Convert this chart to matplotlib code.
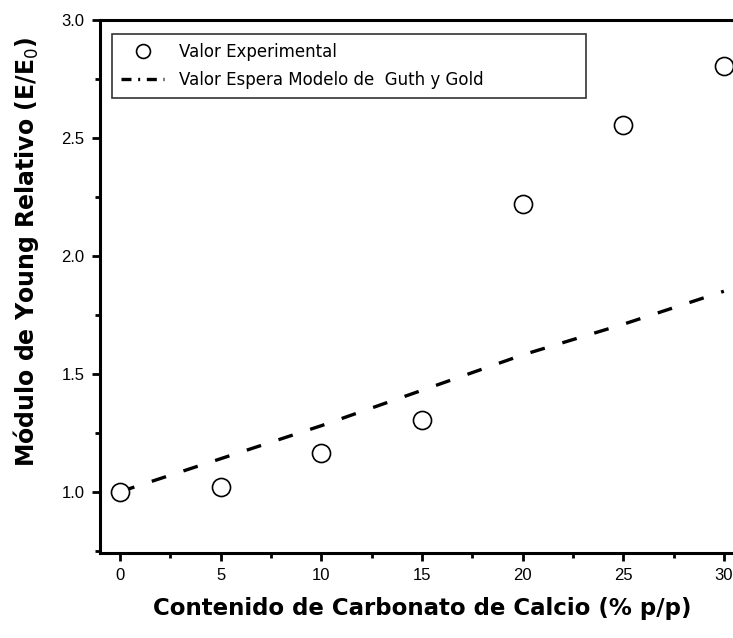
import numpy as np
import matplotlib
matplotlib.use("Agg")
import matplotlib.pyplot as plt
from matplotlib.lines import Line2D
from matplotlib.ticker import MultipleLocator

carbonato = [0, 5, 10, 15, 20, 25, 30]
modulo_exp = [1.00, 1.02, 1.165, 1.305, 2.22, 2.555, 2.805]

# Guth y Gold expected values
carbonato_modelo = [0, 5, 10, 15, 20, 25, 30]
modulo_modelo = [1.00, 1.14, 1.28, 1.43, 1.58, 1.71, 1.85]

plt.rcParams['font.family'] = ['Liberation Sans', 'DejaVu Sans']

fig = plt.figure(figsize=(7.33, 6.38), dpi=100)
ax = fig.add_axes([0.1364, 0.1332, 0.8786, 0.8354])

ax.plot(carbonato_modelo, modulo_modelo, color='black', lw=2.4,
        dashes=(4.5, 5.5), zorder=2)
ax.plot(carbonato, modulo_exp, 'o', ms=13, mfc='white', mec='black',
        mew=1.2, zorder=3)

ax.set_xlim(-1, 31)
ax.set_ylim(0.74, 3.0)
ax.xaxis.set_major_locator(MultipleLocator(5))
ax.xaxis.set_minor_locator(MultipleLocator(2.5))
ax.yaxis.set_major_locator(MultipleLocator(0.5))
ax.yaxis.set_minor_locator(MultipleLocator(0.25))
ax.yaxis.set_major_formatter(matplotlib.ticker.FormatStrFormatter('%.1f'))

for s in ax.spines.values():
    s.set_linewidth(2.2)
ax.tick_params(which='major', direction='out', length=6, width=2, labelsize=12, pad=5)
ax.tick_params(which='minor', direction='out', length=3.5, width=2)

ax.set_xlabel('Contenido de Carbonato de Calcio (% p/p)', fontsize=16.5,
              fontweight='bold', family='DejaVu Sans', labelpad=10)
ax.set_ylabel('Módulo de Young Relativo (E/E$_0$)', fontsize=17,
              fontweight='bold', family='DejaVu Sans')
ax.yaxis.set_label_coords(-0.092, 0.565)

handles = [
    Line2D([], [], ls='none', marker='o', ms=10, mfc='white', mec='black', mew=1.2),
    Line2D([], [], color='black', lw=2.4, dashes=(3, 2, 0.6, 2)),
]
labels = ['Valor Experimental', 'Valor Espera Modelo de  Guth y Gold']
leg = ax.legend(handles, labels, loc='upper left',
                bbox_to_anchor=(0.0186, 0.0, 0.736, 0.974), mode='expand',
                borderaxespad=0,
                prop={'family': 'DejaVu Sans', 'size': 12}, frameon=True,
                fancybox=False, edgecolor='black',
                handlelength=2.6, handletextpad=0.9,
                borderpad=0.55, labelspacing=0.6)
leg.get_frame().set_linewidth(1.2)

fig.savefig('out.png', dpi=100)
